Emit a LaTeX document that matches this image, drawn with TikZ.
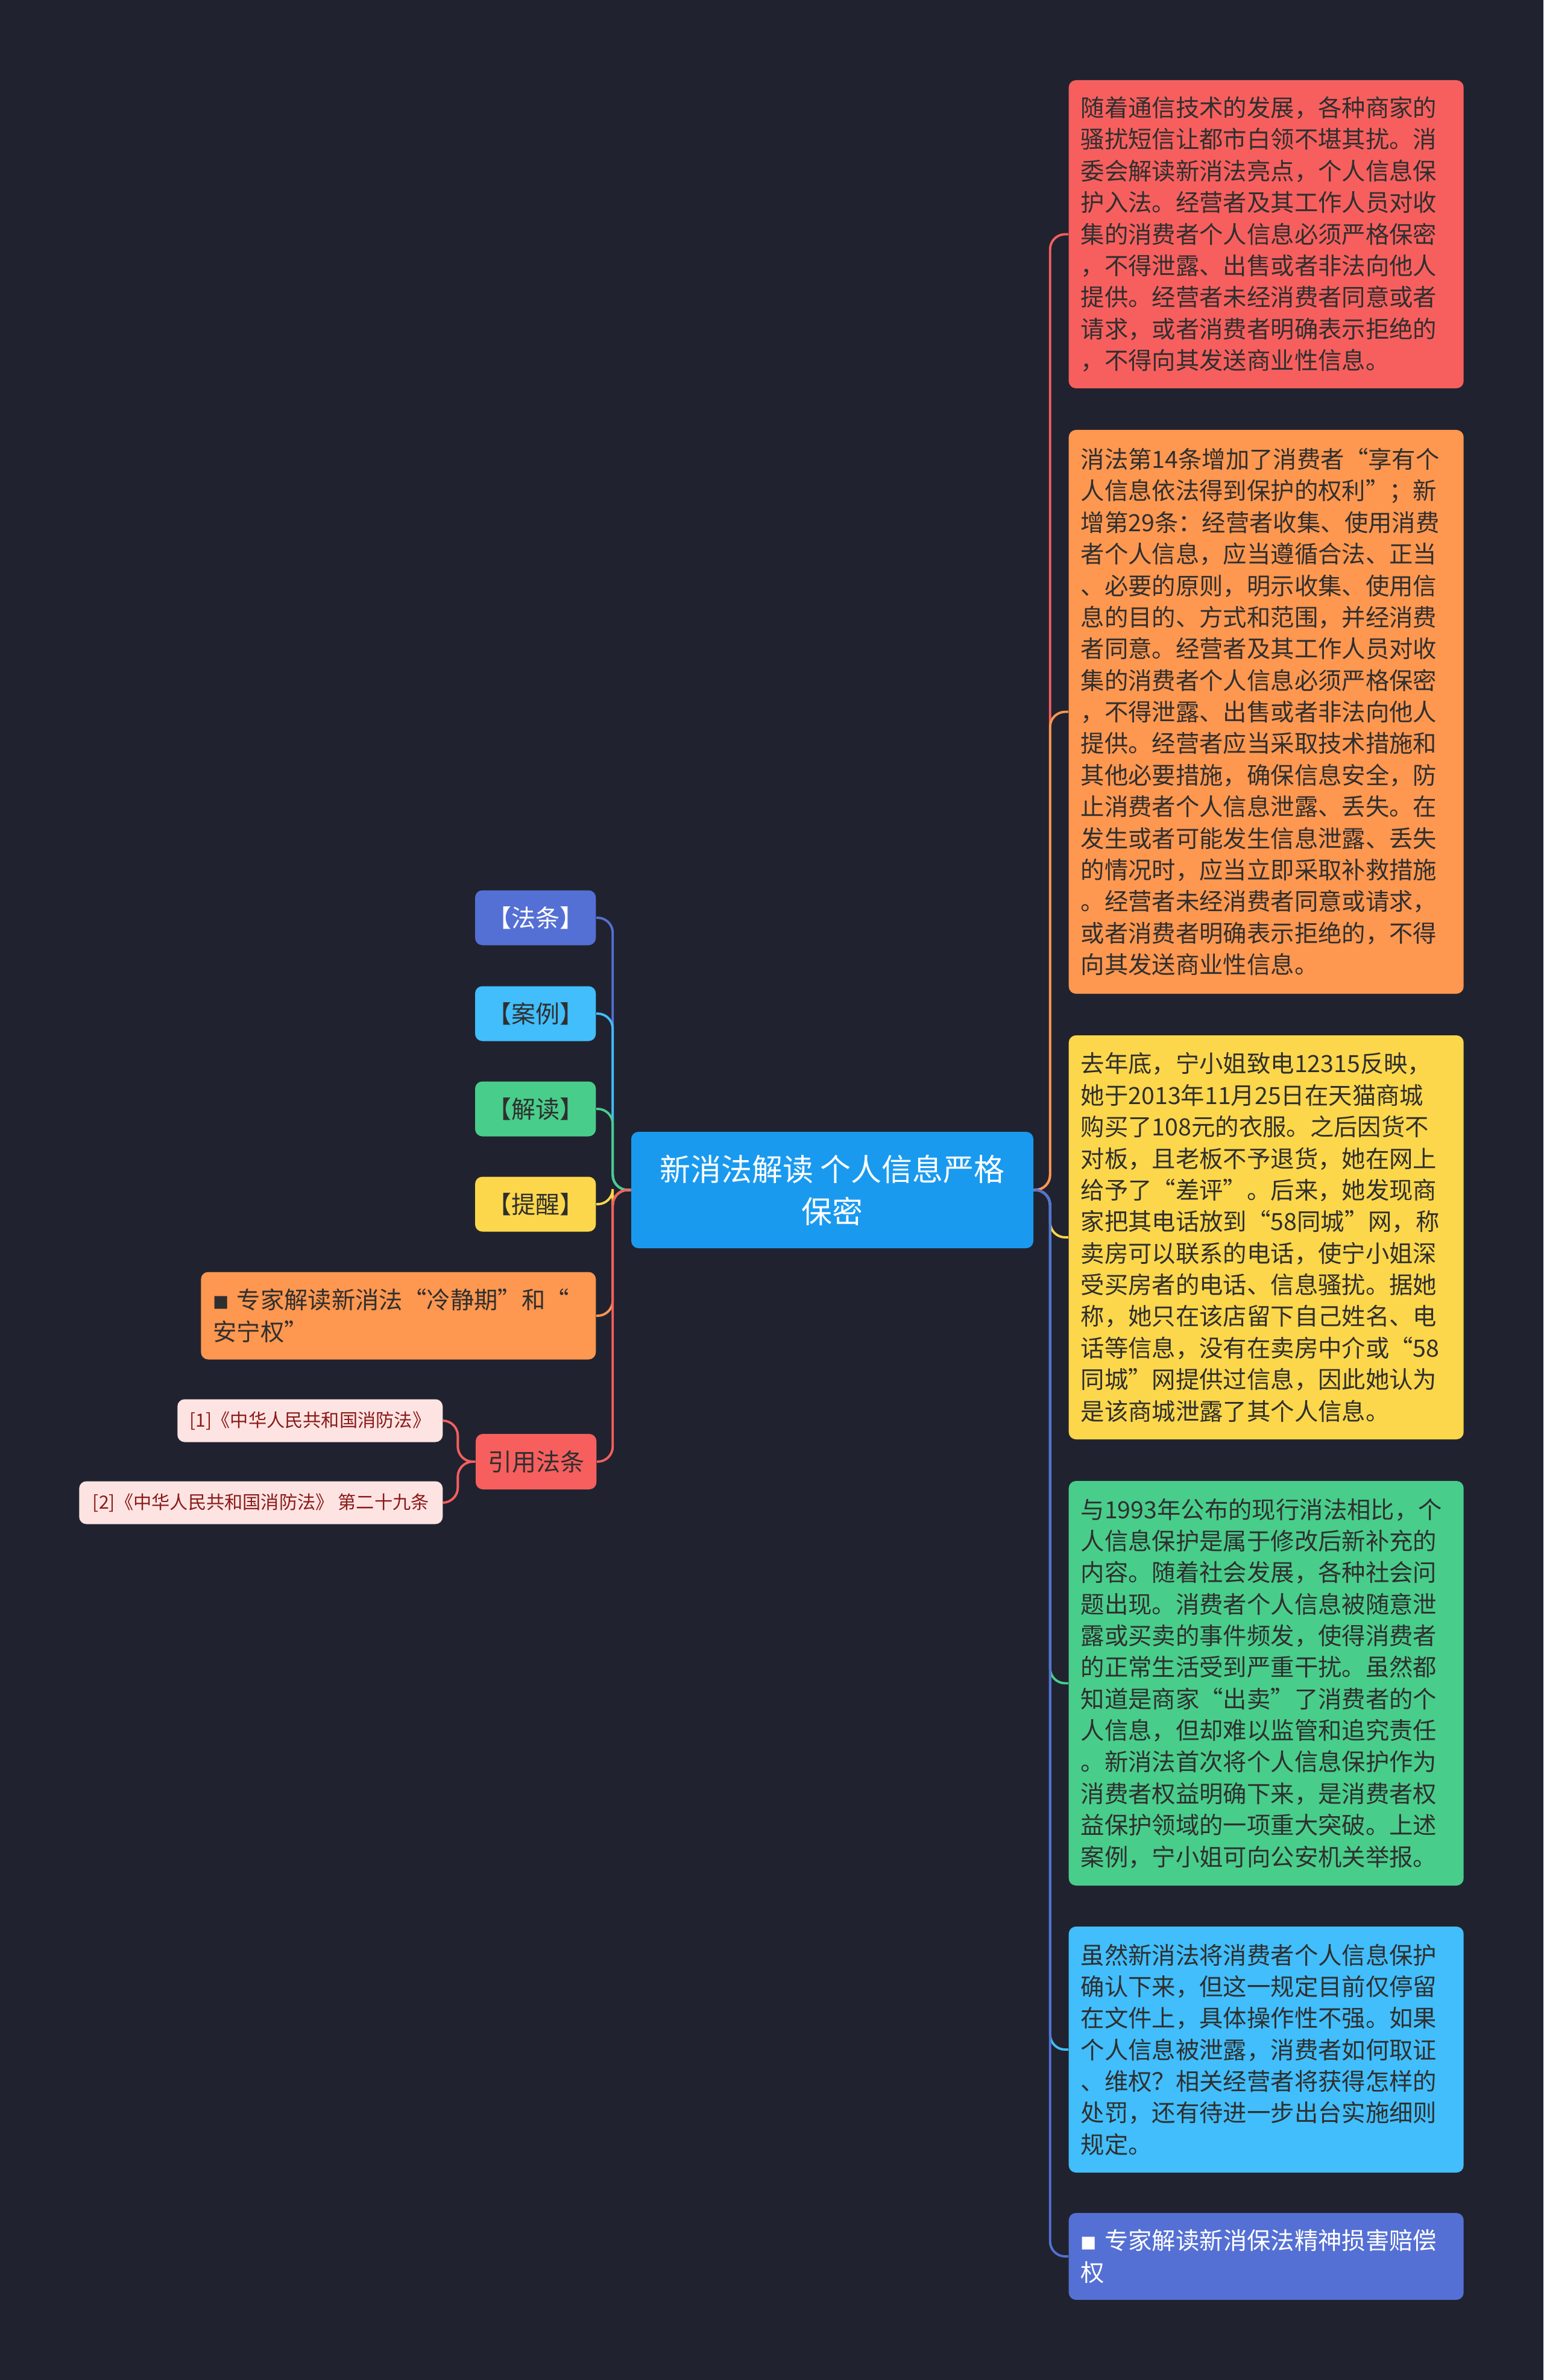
\documentclass[tikz,border=0pt]{standalone}
\usepackage{fontspec}
\setmainfont{Noto Sans CJK SC}

\definecolor{bg}{HTML}{20232F}
\definecolor{rootblue}{HTML}{1A9AEF}
\definecolor{cred}{HTML}{F65F5E}
\definecolor{corange}{HTML}{FE9750}
\definecolor{cyellow}{HTML}{FDD74B}
\definecolor{cgreen}{HTML}{49CD8B}
\definecolor{ccyan}{HTML}{41BEFB}
\definecolor{cviolet}{HTML}{5570D4}
\definecolor{ink}{HTML}{2F2F2F}
\definecolor{refpink}{HTML}{FDE4E2}
\definecolor{refink}{HTML}{8B1A1A}

\newcommand{\bul}{{\fontsize{7.5pt}{7.5pt}\selectfont ■}}

\begin{document}
\begin{tikzpicture}[
  box/.style={rectangle, rounded corners=0.12cm, inner xsep=0.2cm, inner ysep=0.1cm},
  para/.style={box, anchor=west, text width=6.15cm, align=left, text=ink,
    font=\fontsize{11.2pt}{14.9pt}\selectfont},
  tag/.style={box, anchor=east, minimum width=1.97cm, minimum height=0.91cm,
    font=\fontsize{11.4pt}{14pt}\selectfont},
  ref/.style={box, anchor=east, fill=refpink, text=refink, minimum height=0.71cm,
    font=\fontsize{8.6pt}{10pt}\selectfont},
  link/.style={line width=1.1pt, rounded corners=0.25cm}
]
\useasboundingbox (0,0) rectangle (25.6,-39.47);
\fill[bg] (0,0) rectangle (25.6,-39.47);

\node[box, fill=rootblue, text=white, align=center, minimum width=6.67cm, minimum height=1.93cm,
  font=\fontsize{14.5pt}{19.9pt}\selectfont] (root) at (13.805,-19.735) {新消法解读 个人信息严格\\保密};

% right side
\node[para, fill=cred, minimum height=5.11cm] (r1) at (17.72,-3.885) {随着通信技术的发展，各种商家的\\骚扰短信让都市白领不堪其扰。消\\委会解读新消法亮点，个人信息保\\护入法。经营者及其工作人员对收\\集的消费者个人信息必须严格保密\\，不得泄露、出售或者非法向他人\\提供。经营者未经消费者同意或者\\请求，或者消费者明确表示拒绝的\\，不得向其发送商业性信息。};
\node[para, fill=corange, minimum height=9.35cm] (r2) at (17.72,-11.805) {消法第14条增加了消费者“享有个\\人信息依法得到保护的权利”；新\\增第29条：经营者收集、使用消费\\者个人信息，应当遵循合法、正当\\、必要的原则，明示收集、使用信\\息的目的、方式和范围，并经消费\\者同意。经营者及其工作人员对收\\集的消费者个人信息必须严格保密\\，不得泄露、出售或者非法向他人\\提供。经营者应当采取技术措施和\\其他必要措施，确保信息安全，防\\止消费者个人信息泄露、丢失。在\\发生或者可能发生信息泄露、丢失\\的情况时，应当立即采取补救措施\\。经营者未经消费者同意或请求，\\或者消费者明确表示拒绝的，不得\\向其发送商业性信息。};
\node[para, fill=cyellow, minimum height=6.70cm] (r3) at (17.72,-20.52) {去年底，宁小姐致电12315反映，\\她于2013年11月25日在天猫商城\\购买了108元的衣服。之后因货不\\对板，且老板不予退货，她在网上\\给予了“差评”。后来，她发现商\\家把其电话放到“58同城”网，称\\卖房可以联系的电话，使宁小姐深\\受买房者的电话、信息骚扰。据她\\称，她只在该店留下自己姓名、电\\话等信息，没有在卖房中介或“58\\同城”网提供过信息，因此她认为\\是该商城泄露了其个人信息。};
\node[para, fill=cgreen, minimum height=6.71cm] (r4) at (17.72,-27.915) {与1993年公布的现行消法相比，个\\人信息保护是属于修改后新补充的\\内容。随着社会发展，各种社会问\\题出现。消费者个人信息被随意泄\\露或买卖的事件频发，使得消费者\\的正常生活受到严重干扰。虽然都\\知道是商家“出卖”了消费者的个\\人信息，但却难以监管和追究责任\\。新消法首次将个人信息保护作为\\消费者权益明确下来，是消费者权\\益保护领域的一项重大突破。上述\\案例，宁小姐可向公安机关举报。};
\node[para, fill=ccyan, minimum height=4.08cm] (r5) at (17.72,-33.99) {虽然新消法将消费者个人信息保护\\确认下来，但这一规定目前仅停留\\在文件上，具体操作性不强。如果\\个人信息被泄露，消费者如何取证\\、维权？相关经营者将获得怎样的\\处罚，还有待进一步出台实施细则\\规定。};
\node[para, fill=cviolet, text=white, minimum height=1.44cm] (r6) at (17.72,-37.42) {\bul{} 专家解读新消保法精神损害赔偿\\权};

% left side
\foreach \nm/\y/\col/\ink/\txt in {fatiao/15.22/cviolet/white/【法条】, anli/16.81/ccyan/ink/【案例】,
    jiedu/18.39/cgreen/ink/【解读】, tixing/19.97/cyellow/ink/【提醒】} {
\node[tag, fill=\col, text=\ink] (\nm) at (9.89,-\y) {\txt};
}
\node[box, anchor=east, fill=corange, text=ink, text width=6.15cm, align=left, minimum height=1.45cm,
  font=\fontsize{11.2pt}{14.9pt}\selectfont] (lengjing) at (9.89,-21.82) {\bul{} 专家解读新消法“冷静期”和“\\安宁权”};
\node[tag, fill=cred, text=ink, minimum height=0.92cm] (cite) at (9.90,-24.24) {引用法条};

% references
\node[ref, minimum width=4.40cm] (ref1) at (7.35,-23.56) {[1]《中华人民共和国消防法》};
\node[ref, minimum width=6.03cm] (ref2) at (7.35,-24.92) {[2]《中华人民共和国消防法》 第二十九条};

% connectors
\foreach \nm/\col in {fatiao/cviolet, anli/ccyan, jiedu/cgreen, tixing/cyellow, lengjing/corange, cite/cred} {
\draw[link, \col] (root.west) -- ++(-0.3,0) |- (\nm.east);
}
\foreach \nm/\col in {r1/cred, r2/corange, r3/cyellow, r4/cgreen, r5/ccyan, r6/cviolet} {
\draw[link, \col] (root.east) -- ++(0.27,0) |- (\nm.west);
}
\draw[link, cred] (cite.west) -- ++(-0.29,0) |- (ref1.east);
\draw[link, cred] (cite.west) -- ++(-0.29,0) |- (ref2.east);
\end{tikzpicture}
\end{document}
